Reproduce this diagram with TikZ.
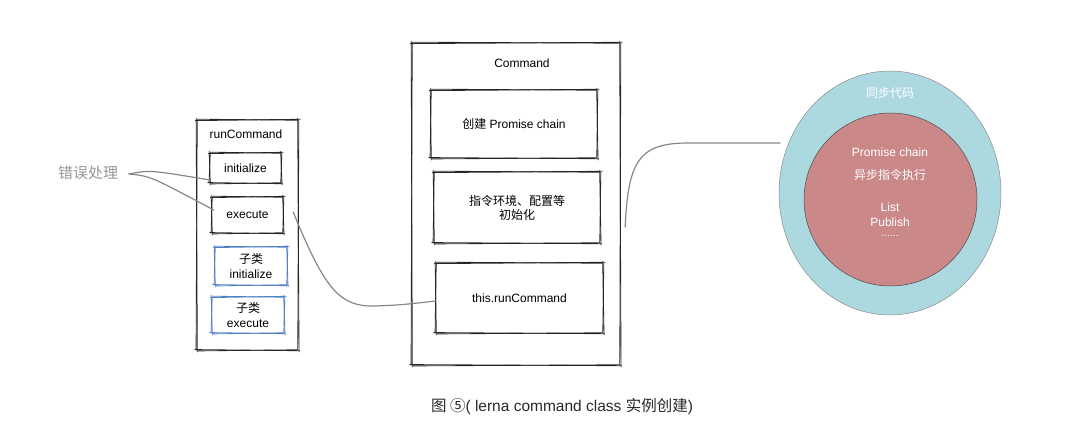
\documentclass[tikz,border=0pt]{standalone}
\usepackage{fontspec}
\usetikzlibrary{shapes.geometric}
\setmainfont{Liberation Sans}
\newfontfamily\cjk{Noto Sans CJK SC}
\definecolor{teal1}{RGB}{172,216,224}
\definecolor{rose1}{RGB}{203,136,136}
\definecolor{blue1}{RGB}{80,130,195}
\definecolor{conn}{RGB}{135,135,135}
\definecolor{errg}{RGB}{150,150,150}
\definecolor{capg}{RGB}{40,40,40}
\newcommand\roughbox[2]{%
 \draw[rough,#2] ([shift={(-1.5,0.8)}]#1.north west) -- ([shift={(2,-0.5)}]#1.north east);
 \draw[rough,#2] ([shift={(0.5,-0.6)}]#1.north west) -- ([shift={(-0.8,0.4)}]#1.north east);
 \draw[rough,#2] ([shift={(-0.5,-1.5)}]#1.north east) -- ([shift={(0.8,1.8)}]#1.south east);
 \draw[rough,#2] ([shift={(0.6,0.5)}]#1.north east) -- ([shift={(-0.4,-0.6)}]#1.south east);
 \draw[rough,#2] ([shift={(1.5,0.5)}]#1.south east) -- ([shift={(-2,-0.6)}]#1.south west);
 \draw[rough,#2] ([shift={(-0.5,-0.4)}]#1.south east) -- ([shift={(0.8,0.7)}]#1.south west);
 \draw[rough,#2] ([shift={(0.5,1.8)}]#1.south west) -- ([shift={(-0.6,-1.5)}]#1.north west);
 \draw[rough,#2] ([shift={(-0.7,-0.3)}]#1.south west) -- ([shift={(0.4,0.6)}]#1.north west);
}
\tikzset{
 rough/.style={line width=0.85pt, black!85, line cap=round},
 bluerough/.style={line width=0.85pt, blue1, line cap=round},
 box/.style={draw=none, inner sep=0pt, align=center, font=\fontsize{12}{15}\selectfont},
 lbl/.style={inner sep=0pt, align=center, font=\fontsize{12}{15}\selectfont},
 wlbl/.style={inner sep=0pt, align=center, text=white, font=\fontsize{12}{15}\selectfont},
 connector/.style={conn, line width=1.2pt, line cap=round},
}
\begin{document}
\begin{tikzpicture}[x=1pt,y=-1pt]
\useasboundingbox (0,0) rectangle (1080,436);
% runCommand column
\node[box, minimum width=101pt, minimum height=230pt] (run) at (247.5,235) {};
\node[lbl] (runlbl) at (246,134) {runCommand};
\node[box, minimum width=71pt, minimum height=30pt] (init) at (245.5,168) {initialize};
\node[box, minimum width=71pt, minimum height=36pt] (exec) at (247.5,215) {execute};
\node[box, minimum width=72pt, minimum height=38pt] (subinit) at (251,266) {{\cjk 子类}\\initialize};
\node[box, minimum width=72pt, minimum height=36pt] (subexec) at (248,315) {{\cjk 子类}\\execute};
\roughbox{run}{rough}
\roughbox{init}{rough}
\roughbox{exec}{rough}
\roughbox{subinit}{bluerough}
\roughbox{subexec}{bluerough}
% Command column
\node[box, minimum width=208pt, minimum height=322pt] (cmd) at (516,204) {};
\node[lbl] (cmdlbl) at (522,63) {Command};
\node[box, minimum width=166pt, minimum height=68pt] (b1) at (514,124) {{\cjk 创建} Promise chain};
\node[box, minimum width=166pt, minimum height=71pt] (b2) at (517,207.5) {\cjk 指令环境、配置等\\[-1pt]\cjk 初始化};
\node[box, minimum width=167pt, minimum height=70pt] (b3) at (519.5,298) {this.runCommand};
\roughbox{cmd}{rough}
\roughbox{b1}{rough}
\roughbox{b2}{rough}
\roughbox{b3}{rough}
% circles
\node[ellipse, draw=black!45, line width=0.5pt, fill=teal1, minimum width=222pt, minimum height=244pt, inner sep=0pt] (outer) at (890,193) {};
\node[circle, draw=black!70, line width=0.5pt, fill=rose1, minimum size=173pt, inner sep=0pt] (inner) at (890.5,199.5) {};
\node[wlbl] (sync) at (890,93) {\cjk 同步代码};
\node[wlbl] (pc) at (890,152) {Promise chain};
\node[wlbl] (async) at (890,175) {\cjk 异步指令执行};
\node[wlbl] (list) at (890,215) {List\\Publish};
\node[wlbl, font=\fontsize{10}{12}\selectfont] (dots) at (890,236) {......};
% error label
\node[inner sep=0pt, text=errg, font=\cjk\fontsize{15}{18}\selectfont] (err) at (88,173) {错误处理};
\coordinate (errpt) at (129,174);
\draw[connector] (errpt) .. controls (150,170) .. ([shift={(0,12)}]init.west);
\draw[connector] (errpt) .. controls (150,176) .. ([shift={(2,-5)}]exec.west);
% connectors
\draw[connector] ([shift={(10,-3)}]exec.east) .. controls (325,290) and (340,307) .. (375,306) .. controls (400,305) .. ([shift={(0,3)}]b3.west);
\coordinate (circend) at (780,143);
\draw[connector] ([shift={(5,23)}]cmd.east) .. controls (628,160) and (640,144) .. (685,143) -- (circend);
% caption
\node[inner sep=0pt, text=capg, font=\fontsize{15.5}{18}\selectfont] (cap) at (562,407) {{\cjk 图 ⑤}( lerna command class {\cjk 实例创建})};
\end{tikzpicture}
\end{document}
